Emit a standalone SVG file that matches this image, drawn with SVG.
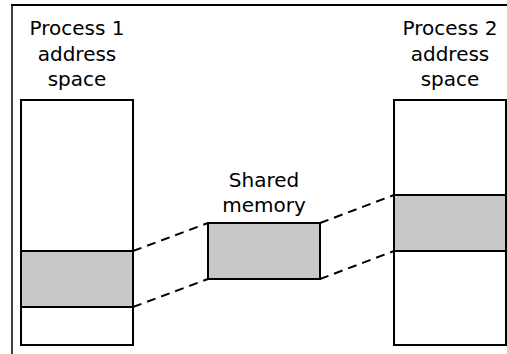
<svg xmlns="http://www.w3.org/2000/svg" width="507" height="354" viewBox="0 0 507 354">
<style>
.box{fill:#fff;stroke:#000;stroke-width:2}
.sh{fill:#c8c8c8;stroke:#000;stroke-width:2}
.lbl{font-family:"DejaVu Sans",sans-serif;font-size:20px;fill:#000;text-anchor:middle}
.dash{stroke:#000;stroke-width:2;stroke-dasharray:9,6;fill:none}
</style>
<rect width="507" height="354" fill="#fff"/>
<g id="frame">
<line x1="11" y1="5" x2="507" y2="5" stroke="#000" stroke-width="2"/>
<line x1="12" y1="4" x2="12" y2="354" stroke="#000" stroke-width="1.5"/>
</g>
<g id="process1">
<rect class="box" x="21" y="100" width="112" height="245"/>
<rect class="sh" x="21" y="251" width="112" height="56"/>
<text class="lbl" x="77" y="35">Process 1</text>
<text class="lbl" x="77" y="60.5">address</text>
<text class="lbl" x="77" y="86">space</text>
</g>
<g id="shared">
<rect class="sh" x="208" y="223" width="112" height="56"/>
<text class="lbl" x="264" y="187">Shared</text>
<text class="lbl" x="264" y="212">memory</text>
</g>
<g id="process2">
<rect class="box" x="394" y="100" width="112" height="245"/>
<rect class="sh" x="394" y="195" width="112" height="56"/>
<text class="lbl" x="450" y="35">Process 2</text>
<text class="lbl" x="450" y="60.5">address</text>
<text class="lbl" x="450" y="86">space</text>
</g>
<g id="connectors">
<line class="dash" x1="133" y1="251" x2="208" y2="223"/>
<line class="dash" x1="133" y1="307" x2="208" y2="279"/>
<line class="dash" x1="320" y1="223" x2="394" y2="195"/>
<line class="dash" x1="320" y1="279" x2="394" y2="251"/>
</g>
</svg>
